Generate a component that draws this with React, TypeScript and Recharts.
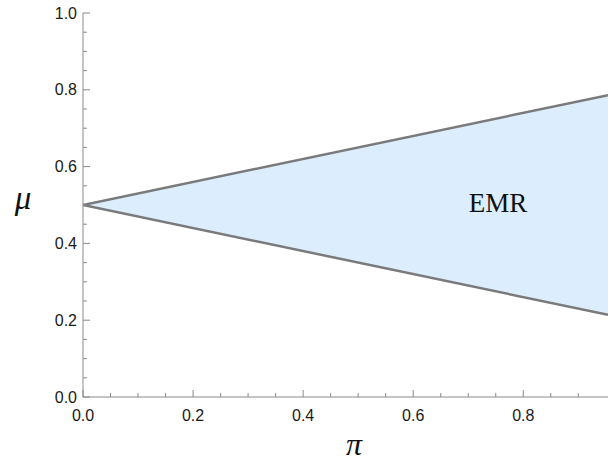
import { ComposedChart, Area, XAxis, YAxis } from "recharts";

const piValues = [0, 0.954];
const muUpper = [0.5, 0.786];
const muLower = [0.5, 0.214];

const xTicks = [0, 0.05, 0.1, 0.15, 0.2, 0.25, 0.3, 0.35, 0.4, 0.45, 0.5, 0.55, 0.6, 0.65, 0.7, 0.75, 0.8, 0.85, 0.9];
const xMajor = [0, 0.2, 0.4, 0.6, 0.8];
const yTicks = [0, 0.05, 0.1, 0.15, 0.2, 0.25, 0.3, 0.35, 0.4, 0.45, 0.5, 0.55, 0.6, 0.65, 0.7, 0.75, 0.8, 0.85, 0.9, 0.95, 1];
const yMajor = [0, 0.2, 0.4, 0.6, 0.8, 1];

const data = piValues.map((p, i) => ({ pi: p, range: [muLower[i], muUpper[i]] }));

const axisColor = "#8a8a8a";
const labelFont = "'Liberation Sans', Arial, sans-serif";
const serif = "'Liberation Serif', serif";

const isMajor = (list: number[], v: number) => list.some((m) => Math.abs(m - v) < 1e-6);

const XTick = (props: any) => {
  const { x, y, payload } = props;
  const major = isMajor(xMajor, payload.value);
  return (
    <g>
      <line x1={x} y1={y} x2={x} y2={y - (major ? 7 : 4)} stroke={axisColor} strokeWidth={1} />
      {major && (
        <text x={x} y={y + 24} textAnchor="middle" fontSize={16} fontFamily={labelFont} fill="#1a1a1a">
          {payload.value.toFixed(1)}
        </text>
      )}
    </g>
  );
};

const YTick = (props: any) => {
  const { x, y, payload } = props;
  const major = isMajor(yMajor, payload.value);
  return (
    <g>
      <line x1={x} y1={y} x2={x + (major ? 7 : 4)} y2={y} stroke={axisColor} strokeWidth={1} />
      {major && (
        <text x={x - 6} y={y + 5.5} textAnchor="end" fontSize={16} fontFamily={labelFont} fill="#1a1a1a">
          {payload.value.toFixed(1)}
        </text>
      )}
    </g>
  );
};

export default function App() {
  return (
    <div style={{ position: "absolute", left: 0, top: 0, width: 608, height: 462, background: "#fff" }}>
      <ComposedChart width={608} height={462} data={data} margin={{ top: 13, right: 0, bottom: 0, left: 0 }}>
        <XAxis
          dataKey="pi"
          type="number"
          domain={[0, 0.954]}
          allowDataOverflow
          ticks={xTicks}
          interval={0}
          tick={<XTick />}
          tickSize={0}
          tickMargin={0}
          tickLine={false}
          height={65}
          axisLine={{ stroke: axisColor }}
        />
        <YAxis
          type="number"
          domain={[0, 1]}
          ticks={yTicks}
          interval={0}
          tick={<YTick />}
          tickSize={0}
          tickMargin={0}
          tickLine={false}
          width={83}
          axisLine={{ stroke: axisColor }}
        />
        <Area
          type="linear"
          dataKey="range"
          fill="#dcedfd"
          fillOpacity={1}
          stroke="#7a7a7a"
          strokeWidth={2.5}
          dot={false}
          activeDot={false}
          isAnimationActive={false}
        />
      </ComposedChart>
      <svg width={608} height={462} style={{ position: "absolute", left: 0, top: 0, pointerEvents: "none" }}>
        <text x={23} y={209} textAnchor="middle" fontSize={33} fontStyle="italic" fontFamily={serif} fill="#111">
          μ
        </text>
        <text x={354} y={455} textAnchor="middle" fontSize={32} fontStyle="italic" fontFamily={serif} fill="#111">
          π
        </text>
        <text x={498} y={212} textAnchor="middle" fontSize={27} fontFamily={serif} fill="#111">
          EMR
        </text>
      </svg>
    </div>
  );
}
